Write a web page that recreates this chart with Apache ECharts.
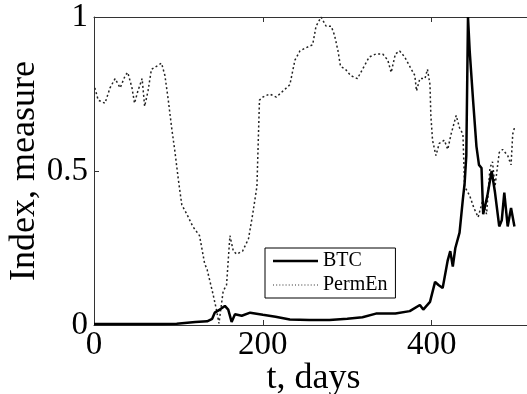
<!DOCTYPE html>
<html>
<head>
<meta charset="utf-8">
<script src="https://cdn.jsdelivr.net/npm/echarts@6/dist/echarts.min.js"></script>
<style>
  html, body { margin: 0; padding: 0; background: #fff; }
  #main { width: 527px; height: 394px; }
</style>
</head>
<body>
<div id="main"></div>
<script>
// BTC index, normalised  [day, value]
var btcData = [
  [0, 0.003], [20, 0.003], [40, 0.003], [60, 0.003], [80, 0.003], [98, 0.004],
  [100, 0.01], [120, 0.01], [134, 0.012], [140, 0.02], [143, 0.04], [149, 0.05],
  [155, 0.062], [159, 0.05], [163, 0.01], [167, 0.035], [175, 0.03], [185, 0.04],
  [200, 0.033], [215, 0.027], [232, 0.018], [255, 0.016], [279, 0.016], [300, 0.02],
  [318, 0.025], [334, 0.037], [357, 0.037], [374, 0.045], [386, 0.065], [390, 0.05],
  [398, 0.075], [404, 0.14], [408, 0.13], [413, 0.12], [419, 0.21], [422, 0.24],
  [425, 0.19], [428, 0.25], [433, 0.30], [437, 0.41], [439, 0.46], [441, 0.55],
  [443, 1.0], [445, 0.89], [449, 0.73], [453, 0.58], [456, 0.52], [459, 0.51],
  [461, 0.36], [466, 0.42], [471, 0.50], [475, 0.43], [480, 0.32], [483, 0.34],
  [486, 0.43], [490, 0.32], [494, 0.38], [498, 0.32]
];

// permutation entropy measure  [day, value]
var permEnData = [
  [1, 0.77], [5, 0.73], [13, 0.72], [19, 0.77], [25, 0.80], [31, 0.77], [37, 0.81],
  [40, 0.82], [45, 0.77], [48, 0.72], [52, 0.76], [57, 0.80], [60, 0.71], [64, 0.76],
  [68, 0.83], [74, 0.84], [80, 0.85], [84, 0.81], [88, 0.73], [92, 0.64], [96, 0.56],
  [100, 0.47], [104, 0.39], [110, 0.36], [117, 0.32], [125, 0.29], [131, 0.20],
  [134, 0.18], [141, 0.10], [145, 0.05], [148, 0.005], [153, 0.11], [157, 0.13],
  [161, 0.29], [165, 0.24], [169, 0.23], [176, 0.24], [183, 0.28], [188, 0.36],
  [193, 0.45], [196, 0.73], [200, 0.74], [208, 0.75], [216, 0.74], [224, 0.76],
  [232, 0.78], [238, 0.86], [244, 0.89], [251, 0.90], [259, 0.91], [263, 0.97],
  [269, 1.0], [275, 0.97], [281, 0.97], [285, 0.94], [289, 0.89], [292, 0.84],
  [298, 0.83], [304, 0.81], [312, 0.80], [318, 0.83], [326, 0.87], [334, 0.88],
  [342, 0.88], [348, 0.86], [352, 0.82], [357, 0.88], [362, 0.89], [368, 0.87],
  [374, 0.84], [380, 0.81], [382, 0.76], [386, 0.80], [392, 0.80], [395, 0.83],
  [398, 0.78], [399, 0.68], [401, 0.60], [405, 0.55], [409, 0.59], [415, 0.60],
  [419, 0.57], [423, 0.62], [429, 0.68], [433, 0.64], [437, 0.62], [439, 0.45],
  [445, 0.42], [450, 0.38], [455, 0.35], [460, 0.40], [465, 0.36], [469, 0.51],
  [472, 0.53], [475, 0.45], [480, 0.56], [484, 0.57], [490, 0.55], [494, 0.52],
  [496, 0.62], [498, 0.64]
];

var xTicks = [0, 200, 400];
var yTicks = [0, 0.5, 1];

var chart = echarts.init(document.getElementById('main'), null, { renderer: 'canvas' });

var serif = 'Liberation Serif';
var axisColor = '#333';

var option = {
  backgroundColor: '#fff',
  animation: false,
  grid: {
    left: 94,
    top: 17,
    bottom: 69,
    right: -6,
    containLabel: false,
    outerBoundsMode: 'none'
  },
  legend: {
    orient: 'vertical',
    left: 265,
    top: 248,
    padding: [3, 8, 3, 8],
    itemGap: 4,
    itemWidth: 45,
    itemHeight: 12,
    borderColor: '#000',
    borderWidth: 1,
    borderRadius: 0,
    textStyle: { fontFamily: serif, fontSize: 20, color: '#000' },
    data: [
      { name: 'BTC', icon: 'path://M0,0 L45,0 L45,2.5 L0,2.5 Z', itemStyle: { color: '#000' } },
      { name: 'PermEn', icon: 'path://M0,0 L1,0 L1,1 L0,1 Z M3,0 L4,0 L4,1 L3,1 Z M6,0 L7,0 L7,1 L6,1 Z M9,0 L10,0 L10,1 L9,1 Z M12,0 L13,0 L13,1 L12,1 Z M15,0 L16,0 L16,1 L15,1 Z M18,0 L19,0 L19,1 L18,1 Z M21,0 L22,0 L22,1 L21,1 Z M24,0 L25,0 L25,1 L24,1 Z M27,0 L28,0 L28,1 L27,1 Z M30,0 L31,0 L31,1 L30,1 Z M33,0 L34,0 L34,1 L33,1 Z M36,0 L37,0 L37,1 L36,1 Z M39,0 L40,0 L40,1 L39,1 Z M42,0 L43,0 L43,1 L42,1 Z', itemStyle: { color: '#333' } }
    ]
  },
  xAxis: [
    {
      type: 'value',
      min: 0,
      max: 520,
      interval: 200,
      name: 't, days',
      nameLocation: 'middle',
      nameGap: 36,
      nameMoveOverlap: false,
      nameTextStyle: { fontFamily: serif, fontSize: 36, color: '#000' },
      axisLine: { onZero: false, lineStyle: { color: axisColor, width: 1 } },
      axisTick: { inside: true, length: 5, lineStyle: { color: axisColor } },
      axisLabel: {
        fontFamily: serif, fontSize: 33, color: '#000', margin: 4, showMaxLabel: false,
        formatter: function (v) { return xTicks.indexOf(v) >= 0 ? String(v) : ''; }
      },
      splitLine: { show: false }
    },
    {
      type: 'value',
      position: 'top',
      min: 0,
      max: 520,
      interval: 200,
      axisLine: { onZero: false, lineStyle: { color: axisColor, width: 1 } },
      axisTick: { inside: true, length: 5, lineStyle: { color: axisColor } },
      axisLabel: { show: false },
      splitLine: { show: false }
    }
  ],
  yAxis: {
    type: 'value',
    min: 0,
    max: 1,
    interval: 0.5,
    name: 'Index, measure',
    nameLocation: 'middle',
    nameGap: 51,
    nameMoveOverlap: false,
    nameRotate: 90,
    nameTextStyle: { fontFamily: serif, fontSize: 36, color: '#000' },
    axisLine: { show: true, lineStyle: { color: axisColor, width: 1 } },
    axisTick: { show: true, inside: true, length: 5, lineStyle: { color: axisColor } },
    axisLabel: {
      fontFamily: serif, fontSize: 33, color: '#000', margin: 6,
      formatter: function (v) { return yTicks.indexOf(v) >= 0 ? String(v) : ''; }
    },
    splitLine: { show: false }
  },
  series: [
    {
      name: 'PermEn',
      type: 'line',
      data: permEnData,
      symbol: 'none',
      z: 2,
      lineStyle: { color: '#222', width: 1.5, type: [2, 2.5] },
      itemStyle: { color: '#222' }
    },
    {
      name: 'BTC',
      type: 'line',
      data: btcData,
      symbol: 'none',
      z: 3,
      lineStyle: { color: '#000', width: 2.5 },
      itemStyle: { color: '#000' }
    }
  ]
};

chart.setOption(option);
</script>
</body>
</html>
